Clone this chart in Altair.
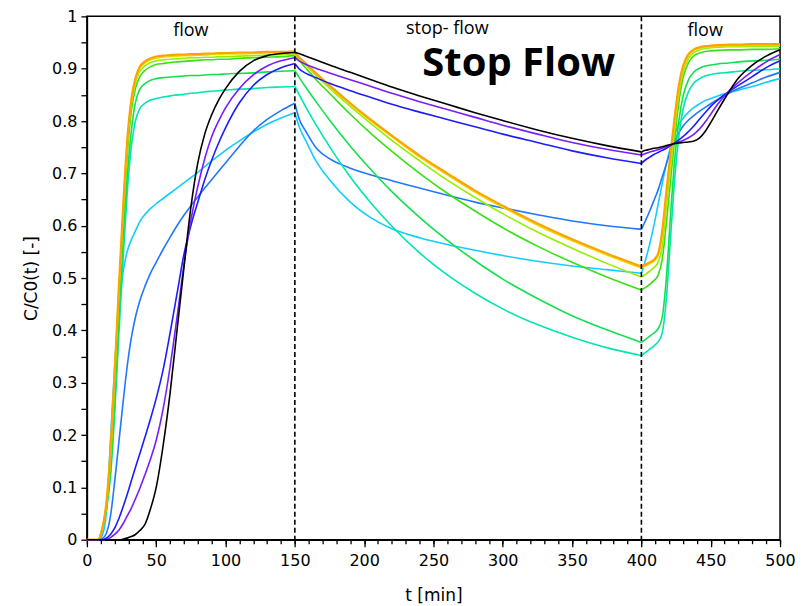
import altair as alt
import pandas as pd

# time grid [min]: flow (0-150), stop-flow (150-400), flow (400-500)
t_min = [0, 8, 11, 14, 17, 20, 23, 26, 29, 32, 35, 38, 42, 46, 50, 55, 60, 65, 70, 75,
         80, 85, 90, 95, 100, 110, 120, 130, 140, 150,
         153, 158, 165, 175, 190, 205, 220, 240, 260, 280, 300, 325, 350, 375, 400,
         403, 406, 409, 412, 415, 418, 421, 424, 427, 430, 434, 438, 442, 446, 450,
         455, 463, 470, 480, 490, 500]

black = [0, 0, 0, 0, 0, 0, 0, 0.001, 0.003, 0.006, 0.01, 0.017, 0.03, 0.06, 0.1, 0.18, 0.28, 0.4, 0.52, 0.635,
         0.72, 0.775, 0.812, 0.84, 0.862, 0.895, 0.915, 0.925, 0.929, 0.931,
         0.929, 0.924, 0.917, 0.907, 0.893, 0.879, 0.865, 0.848, 0.832, 0.816, 0.801, 0.783, 0.767, 0.753, 0.741,
         0.744, 0.746, 0.748, 0.749, 0.751, 0.753, 0.755, 0.757, 0.758, 0.759, 0.76, 0.762, 0.768, 0.78, 0.797,
         0.82, 0.855, 0.882, 0.907, 0.924, 0.936]
purple = [0, 0, 0, 0.001, 0.004, 0.01, 0.018, 0.03, 0.045, 0.06, 0.078, 0.097, 0.125, 0.155, 0.19, 0.25, 0.33, 0.425, 0.525, 0.61,
          0.675, 0.728, 0.77, 0.8, 0.825, 0.862, 0.888, 0.905, 0.915, 0.921,
          0.915, 0.908, 0.901, 0.892, 0.879, 0.866, 0.853, 0.837, 0.822, 0.807, 0.792, 0.775, 0.759, 0.746, 0.735,
          0.738, 0.741, 0.743, 0.745, 0.748, 0.751, 0.754, 0.757, 0.76, 0.763, 0.768, 0.775, 0.785, 0.798, 0.813,
          0.832, 0.857, 0.874, 0.895, 0.913, 0.927]
blue = [0, 0, 0, 0.003, 0.01, 0.022, 0.04, 0.062, 0.086, 0.112, 0.138, 0.163, 0.197, 0.232, 0.27, 0.325, 0.395, 0.47, 0.545, 0.6,
        0.645, 0.688, 0.725, 0.758, 0.787, 0.835, 0.868, 0.889, 0.902, 0.91,
        0.9, 0.891, 0.883, 0.872, 0.858, 0.845, 0.832, 0.817, 0.803, 0.789, 0.775, 0.759, 0.743, 0.73, 0.719,
        0.726, 0.731, 0.736, 0.74, 0.744, 0.748, 0.753, 0.758, 0.764, 0.77, 0.78, 0.791, 0.804, 0.816, 0.828,
        0.84, 0.856, 0.868, 0.885, 0.902, 0.915]
dodger = [0, 0, 0.002, 0.012, 0.045, 0.11, 0.185, 0.26, 0.33, 0.385, 0.425, 0.455, 0.485, 0.51, 0.53, 0.555, 0.578, 0.6, 0.62, 0.638,
          0.655, 0.672, 0.688, 0.704, 0.72, 0.752, 0.781, 0.803, 0.82, 0.834,
          0.805, 0.78, 0.75, 0.728, 0.71, 0.697, 0.686, 0.672, 0.658, 0.645, 0.634, 0.621, 0.609, 0.6, 0.593,
          0.61, 0.628, 0.648, 0.668, 0.693, 0.718, 0.742, 0.762, 0.778, 0.79, 0.802, 0.811, 0.819, 0.826, 0.833,
          0.841, 0.853, 0.862, 0.873, 0.884, 0.893]
cyan = [0, 0, 0.008, 0.05, 0.19, 0.33, 0.44, 0.51, 0.55, 0.573, 0.59, 0.607, 0.622, 0.633, 0.642, 0.652, 0.662, 0.672, 0.682, 0.692,
        0.702, 0.713, 0.724, 0.734, 0.744, 0.762, 0.779, 0.794, 0.806, 0.816,
        0.79, 0.762, 0.725, 0.688, 0.645, 0.615, 0.594, 0.577, 0.564, 0.553, 0.543, 0.532, 0.523, 0.516, 0.509,
        0.535, 0.565, 0.6, 0.64, 0.68, 0.718, 0.75, 0.775, 0.793, 0.805, 0.817, 0.826, 0.833, 0.839, 0.843,
        0.848, 0.854, 0.859, 0.866, 0.874, 0.881]
aqua = [0, 0, 0.02, 0.055, 0.12, 0.24, 0.39, 0.53, 0.66, 0.75, 0.8, 0.823, 0.834, 0.84, 0.843, 0.846, 0.848, 0.85, 0.851, 0.853,
        0.854, 0.856, 0.857, 0.858, 0.859, 0.861, 0.862, 0.864, 0.865, 0.866,
        0.851, 0.826, 0.794, 0.751, 0.693, 0.643, 0.599, 0.548, 0.506, 0.471, 0.441, 0.411, 0.387, 0.367, 0.352,
        0.358, 0.364, 0.37, 0.378, 0.395, 0.46, 0.575, 0.69, 0.77, 0.822, 0.856, 0.873, 0.881, 0.886, 0.889,
        0.891, 0.893, 0.895, 0.897, 0.898, 0.9]
green_a = [0, 0, 0.02, 0.06, 0.13, 0.26, 0.42, 0.57, 0.69, 0.78, 0.835, 0.86, 0.872, 0.878, 0.881, 0.883, 0.884, 0.885, 0.886, 0.887,
           0.887, 0.888, 0.889, 0.889, 0.89, 0.891, 0.892, 0.894, 0.895, 0.896,
           0.884, 0.864, 0.838, 0.802, 0.752, 0.707, 0.665, 0.616, 0.572, 0.533, 0.498, 0.461, 0.428, 0.401, 0.377,
           0.383, 0.389, 0.395, 0.403, 0.425, 0.5, 0.62, 0.725, 0.8, 0.847, 0.879, 0.894, 0.901, 0.905, 0.907,
           0.909, 0.911, 0.913, 0.915, 0.916, 0.918]
green_b = [0, 0, 0.02, 0.062, 0.145, 0.29, 0.45, 0.6, 0.73, 0.818, 0.862, 0.884, 0.897, 0.904, 0.908, 0.91, 0.912, 0.913, 0.914, 0.915,
           0.916, 0.917, 0.917, 0.918, 0.918, 0.92, 0.921, 0.922, 0.923, 0.925,
           0.916, 0.901, 0.88, 0.853, 0.813, 0.776, 0.742, 0.7, 0.662, 0.628, 0.596, 0.561, 0.53, 0.502, 0.477,
           0.482, 0.488, 0.495, 0.505, 0.535, 0.605, 0.685, 0.765, 0.835, 0.882, 0.912, 0.925, 0.93, 0.933, 0.934,
           0.935, 0.936, 0.936, 0.937, 0.937, 0.938]
lime = [0, 0, 0.02, 0.065, 0.155, 0.305, 0.465, 0.615, 0.745, 0.83, 0.873, 0.894, 0.906, 0.912, 0.915, 0.917, 0.918, 0.919, 0.92, 0.921,
        0.921, 0.922, 0.922, 0.923, 0.923, 0.924, 0.925, 0.926, 0.927, 0.928,
        0.92, 0.907, 0.888, 0.863, 0.828, 0.795, 0.763, 0.724, 0.687, 0.654, 0.623, 0.588, 0.557, 0.528, 0.502,
        0.507, 0.513, 0.52, 0.53, 0.56, 0.635, 0.71, 0.785, 0.85, 0.893, 0.92, 0.931, 0.936, 0.939, 0.94,
        0.941, 0.942, 0.942, 0.943, 0.943, 0.943]
yellow = [0, 0, 0.02, 0.068, 0.165, 0.315, 0.475, 0.625, 0.755, 0.836, 0.879, 0.9, 0.911, 0.917, 0.92, 0.922, 0.923, 0.924, 0.925, 0.925,
          0.926, 0.926, 0.927, 0.927, 0.928, 0.928, 0.929, 0.93, 0.93, 0.931,
          0.921, 0.909, 0.89, 0.866, 0.832, 0.8, 0.77, 0.731, 0.697, 0.664, 0.635, 0.601, 0.571, 0.544, 0.519,
          0.523, 0.527, 0.532, 0.542, 0.58, 0.655, 0.728, 0.8, 0.862, 0.9, 0.925, 0.935, 0.939, 0.941, 0.942,
          0.943, 0.944, 0.944, 0.945, 0.945, 0.945]
orange = [0, 0, 0.02, 0.07, 0.17, 0.32, 0.48, 0.63, 0.76, 0.84, 0.882, 0.903, 0.914, 0.92, 0.923, 0.925, 0.926, 0.927, 0.927, 0.928,
          0.928, 0.929, 0.929, 0.93, 0.93, 0.931, 0.931, 0.932, 0.932, 0.933,
          0.922, 0.91, 0.892, 0.868, 0.834, 0.802, 0.772, 0.734, 0.7, 0.667, 0.638, 0.604, 0.574, 0.547, 0.522,
          0.526, 0.53, 0.535, 0.546, 0.59, 0.665, 0.738, 0.808, 0.868, 0.905, 0.928, 0.937, 0.941, 0.943, 0.944,
          0.945, 0.946, 0.946, 0.947, 0.947, 0.947]

# drawing order (bottom to top) and colours
series_order = ["cyan", "dodger", "aqua", "green_a", "green_b", "lime", "yellow", "orange", "blue", "purple", "black"]
series_values = {"black": black, "purple": purple, "blue": blue, "dodger": dodger, "cyan": cyan,
                 "aqua": aqua, "green_a": green_a, "green_b": green_b, "lime": lime,
                 "yellow": yellow, "orange": orange}
series_colors = {"black": "#000000", "purple": "#7a1cff", "blue": "#1c1cff", "dodger": "#1f78ff",
                 "cyan": "#12cdff", "aqua": "#00e6b0", "green_a": "#12e050", "green_b": "#38e014",
                 "lime": "#98ee00", "yellow": "#e6e000", "orange": "#ffa200"}

phase_edges = [150, 400]
x_major = [0, 50, 100, 150, 200, 250, 300, 350, 400, 450, 500]
x_minor = list(range(0, 501, 10))
y_ticks = [0, 0.05, 0.1, 0.15, 0.2, 0.25, 0.3, 0.35, 0.4, 0.45, 0.5, 0.55, 0.6, 0.65, 0.7,
           0.75, 0.8, 0.85, 0.9, 0.95, 1]

phase_labels = ["flow", "stop- flow", "flow"]
phase_label_t = [75, 260, 446]
phase_label_v = [0.962, 0.966, 0.962]
big_label = ["Stop Flow"]
big_label_t = [242]
big_label_v = [0.887]

rows = []
for name in series_order:
    vals = series_values[name]
    assert len(vals) == len(t_min), name
    for t, v in zip(t_min, vals):
        if t <= phase_edges[0]:
            rows.append({"series": name, "phase": 1, "t": t, "v": v})
        if phase_edges[0] <= t <= phase_edges[1]:
            rows.append({"series": name, "phase": 2, "t": t, "v": v})
        if t >= phase_edges[1]:
            rows.append({"series": name, "phase": 3, "t": t, "v": v})
df = pd.DataFrame(rows)

xs = alt.Scale(domain=[0, 500], nice=False, zero=False)
ys = alt.Scale(domain=[0, 1], nice=False)

x_axis_main = alt.Axis(values=x_major, tickSize=7, labelPadding=6, title="t [min]",
                       titlePadding=19, grid=False, format="d", labelFlush=False)
y_axis_main = alt.Axis(values=y_ticks, tickSize=6, labelPadding=4, title="C/C0(t) [-]",
                       titlePadding=11, grid=False, format="~g",
                       labelExpr="(round(datum.value*20) % 2 == 0) ? datum.label : ''")
x_axis_minor = alt.Axis(values=x_minor, tickSize=4, labels=False, domain=False, title="",
                        grid=False, orient="bottom")

layers = []
for k, name in enumerate(series_order):
    sw = 2.2 if name == "orange" else 1.6
    xenc = alt.X("t:Q", scale=xs, axis=x_axis_main) if k == 0 else alt.X("t:Q", scale=xs, axis=None)
    yenc = alt.Y("v:Q", scale=ys, axis=y_axis_main) if k == 0 else alt.Y("v:Q", scale=ys, axis=None)
    layers.append(
        alt.Chart(df).transform_filter(alt.datum.series == name)
        .mark_line(color=series_colors[name], strokeWidth=sw, interpolate="monotone")
        .encode(x=xenc, y=yenc, detail="phase:N")
    )

minor = alt.Chart(pd.DataFrame({"t": x_minor})).mark_tick(opacity=0).encode(
    x=alt.X("t:Q", scale=xs, axis=x_axis_minor))

rules = alt.Chart(pd.DataFrame({"t": phase_edges})).mark_rule(
    color="black", strokeWidth=1.6, strokeDash=[5, 3]).encode(
    x=alt.X("t:Q", scale=xs, axis=None))

ann = pd.DataFrame({"t": phase_label_t, "v": phase_label_v, "label": phase_labels})
ann_text = alt.Chart(ann).mark_text(font="Open Sans", fontSize=18, align="center",
                                    baseline="alphabetic", color="black").encode(
    x=alt.X("t:Q", scale=xs, axis=None), y=alt.Y("v:Q", scale=ys, axis=None), text="label:N")

big = pd.DataFrame({"t": big_label_t, "v": big_label_v, "label": big_label})
big_text = alt.Chart(big).mark_text(font="Open Sans", fontSize=40, fontWeight="bold", align="left",
                                    baseline="alphabetic", color="black").encode(
    x=alt.X("t:Q", scale=xs, axis=None), y=alt.Y("v:Q", scale=ys, axis=None), text="label:N")

chart = alt.layer(*layers, minor, rules, ann_text, big_text).resolve_axis(
    x="independent", y="independent"
).properties(
    width=694, height=524,
    padding={"left": 79, "top": 8, "right": 20, "bottom": 64},
    autosize=alt.AutoSizeParams(type="none"),
    background="white",
).configure_view(
    stroke="black", strokeWidth=1.5
).configure_axis(
    labelFont="DejaVu Sans", labelFontSize=16, labelColor="black",
    titleFont="DejaVu Sans", titleFontSize=17, titleFontWeight="normal", titleColor="black",
    domainColor="black", domainWidth=1.5, tickColor="black", tickWidth=1.3,
)

chart.save("out.html", embed_options={"renderer": "svg", "actions": False})
